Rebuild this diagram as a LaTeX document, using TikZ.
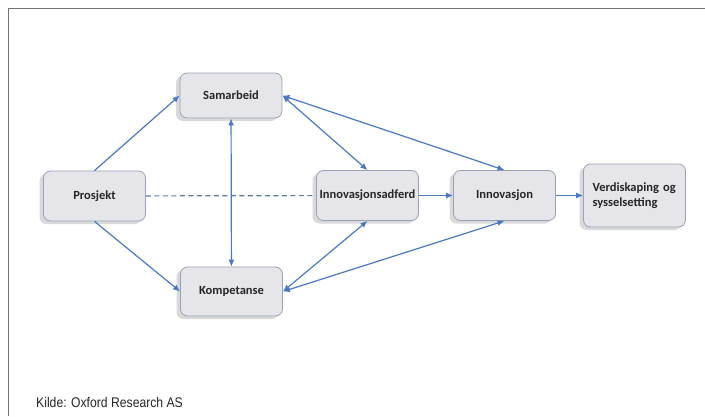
\documentclass[tikz,border=0pt]{standalone}
\usepackage{fontspec}
\setmainfont{Carlito}
\newfontfamily\kildefont[FakeStretch=0.87]{Liberation Sans}
\usetikzlibrary{arrows.meta,positioning,shapes,shadows}

\definecolor{pil}{HTML}{4A78C2}
\definecolor{boksfyll}{HTML}{E5E5EA}
\definecolor{boksrand}{HTML}{98A2B6}

\tikzset{
  boks/.style={draw=boksrand, fill=boksfyll, rounded corners=7pt, line width=.8pt,
    minimum width=102pt, minimum height=50pt, inner sep=2pt,
    font=\fontsize{12.5}{15}\selectfont\bfseries, text=black!85,
    drop shadow={shadow xshift=-4pt, shadow yshift=-3pt, fill=black, opacity=.15}},
  pil/.style={draw=pil, line width=1.2pt, -{Latex[length=7pt,width=6pt]}},
  dobbelpil/.style={pil, {Latex[length=7pt,width=6pt]}-{Latex[length=7pt,width=6pt]}}
}

\begin{document}
\begin{tikzpicture}[x=1pt,y=-1pt]
        \useasboundingbox (0,0) rectangle (705,416);
        \draw[black!55, line width=1.5pt] (8.5,416) -- (8.5,8.5) -- (705,8.5);

        \node[boks, minimum height=45pt] (samarbeid) at (231,95.5) {Samarbeid};
        \node[boks] (prosjekt) at (94.5,196) {Prosjekt};
        \node[boks, minimum height=49pt] (kompetanse) at (231.5,291.5) {Kompetanse};
        \node[boks] (adferd) at (367.5,195.5) {Innovasjonsadferd};
        \node[boks] (innovasjon) at (504.5,195.5) {Innovasjon};
        \node[boks, minimum height=63pt, text width=84pt, align=left, inner sep=8pt] (verdi) at (634.5,195.5) {Verdiskaping og\\ sysselsetting};

        \node[anchor=base west, font=\kildefont\fontsize{14}{16}\selectfont, text=black!85, inner sep=0pt] (kilde) at (36,407) {Kilde: Oxford Research AS};

        \draw[pil] (prosjekt.north) -- (samarbeid.west);
        \draw[pil] (prosjekt.south) -- (kompetanse.west);
        \draw[draw=pil!70!gray, line width=1.2pt, dash pattern=on 5pt off 3.5pt] (prosjekt) -- (adferd);
        \draw[dobbelpil] (samarbeid) -- (kompetanse);
        \draw[dobbelpil] (samarbeid.east) -- (adferd.north);
        \draw[dobbelpil] (samarbeid.east) -- (innovasjon.north);
        \draw[dobbelpil] (kompetanse.east) -- (adferd.south);
        \draw[dobbelpil] (kompetanse.east) -- (innovasjon.south);
        \draw[pil] (adferd) -- (innovasjon);
        \draw[pil] (innovasjon) -- (verdi);
\end{tikzpicture}
\end{document}
